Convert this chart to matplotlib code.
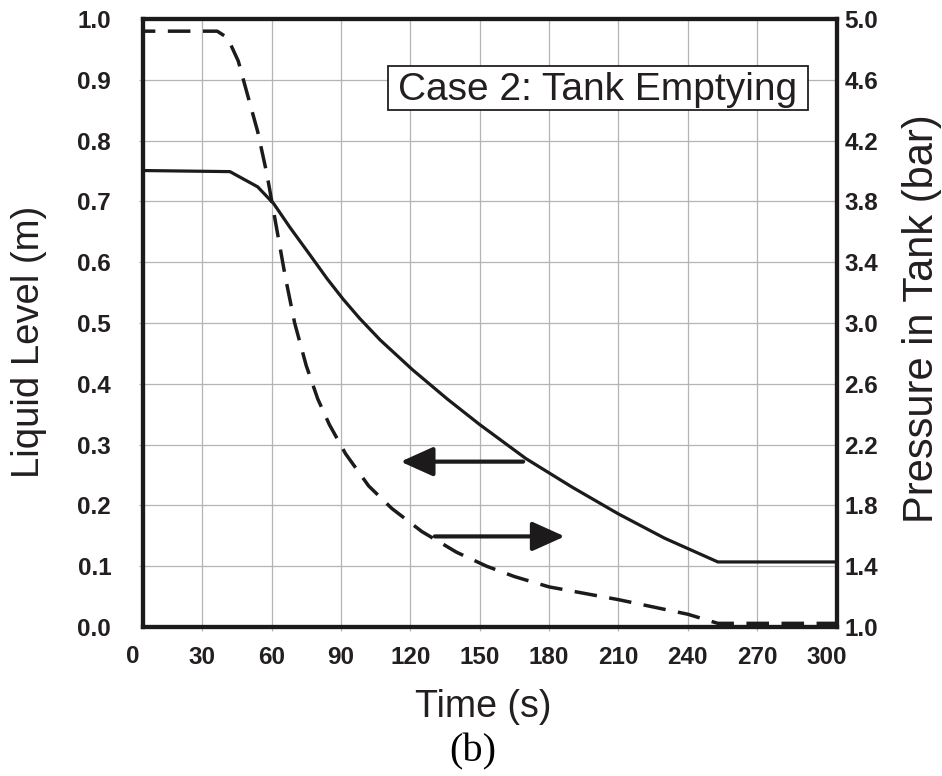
import matplotlib
matplotlib.use('Agg')
import matplotlib.pyplot as plt
from matplotlib.patches import Rectangle

plt.rcParams['font.family'] = ['Liberation Sans', 'DejaVu Sans']

# liquid level (left axis, m)
t_level = [0, 42, 54, 61, 68, 77, 84, 91, 98, 107, 121, 136, 150, 170, 190, 210, 230, 253, 305]
level = [0.751, 0.749, 0.724, 0.696, 0.657, 0.610, 0.573, 0.539, 0.508, 0.472, 0.423, 0.375,
         0.333, 0.277, 0.230, 0.186, 0.146, 0.107, 0.107]

# pressure in tank (right axis, bar)
t_press = [0, 36.5, 41, 45.6, 50, 54, 58, 62, 66, 70, 75, 80, 85, 92, 102, 112, 125, 140,
           153, 165, 180, 210, 240, 253, 305]
pressure = [4.92, 4.92, 4.876, 4.724, 4.48, 4.26, 3.98, 3.64, 3.30, 3.00, 2.72, 2.50, 2.332,
            2.14, 1.928, 1.78, 1.628, 1.492, 1.40, 1.332, 1.264, 1.18, 1.084, 1.024, 1.024]

x_ticks = [30, 60, 90, 120, 150, 180, 210, 240, 270, 300]
level_ticks = [0.0, 0.1, 0.2, 0.3, 0.4, 0.5, 0.6, 0.7, 0.8, 0.9, 1.0]
press_ticks = [1.0, 1.4, 1.8, 2.2, 2.6, 3.0, 3.4, 3.8, 4.2, 4.6, 5.0]

txt = '#231f20'
ink = '#1c1a1a'

fig = plt.figure(figsize=(9.42, 7.76), dpi=100)
ax = fig.add_axes([0.152, 0.192, 0.737, 0.7835])
ax2 = ax.twinx()

ax.plot(t_level, level, color=ink, lw=2.3, solid_joinstyle='round')
ax2.plot(t_press, pressure, color=ink, lw=2.5, dashes=(6.5, 3.6))

ax.set_xlim(4.5, 304.7)
ax.set_ylim(0, 1.0)
ax2.set_ylim(1.0, 5.0)

ax.set_xticks(x_ticks)
ax.set_xticklabels([str(v) for v in x_ticks])
ax.set_yticks(level_ticks)
ax.set_yticklabels([f'{v:.1f}' for v in level_ticks])
ax2.set_yticks(press_ticks)
ax2.set_yticklabels([f'{v:.1f}' for v in press_ticks])

ax.grid(True, color='#b4b4b4', lw=0.9)
ax.set_axisbelow(True)
# no gridline / tick at 300
ax.get_xgridlines()[-1].set_visible(False)
ax.xaxis.get_major_ticks()[-1].tick1line.set_visible(False)
ax.get_ygridlines()[0].set_visible(False)
ax.get_ygridlines()[-1].set_visible(False)
ax.yaxis.get_major_ticks()[0].tick1line.set_visible(False)
ax.yaxis.get_major_ticks()[-1].tick1line.set_visible(False)

ax.tick_params(axis='x', length=3, width=0.9, color='#b4b4b4', pad=11,
               labelsize=17.5, labelcolor=txt)
ax.tick_params(axis='y', length=3, width=0.9, color='#b4b4b4', pad=20,
               labelsize=17.5, labelcolor=txt)
ax2.tick_params(axis='y', length=0, pad=5, labelsize=17.5, labelcolor=txt)
for lab in ax.get_xticklabels() + ax.get_yticklabels() + ax2.get_yticklabels():
    lab.set_fontweight('bold')

# "0" label sits left of the frame
ax.text(0, -0.048, '0', transform=ax.get_xaxis_transform(), ha='center', va='center',
        fontsize=17.5, fontweight='bold', color=txt)

for a in (ax, ax2):
    for s in a.spines.values():
        s.set_linewidth(3)
        s.set_color(ink)

ax.add_patch(Rectangle((110.4, 0.850), 181.6, 0.072, fc='white', ec=txt, lw=1.3, zorder=5))
ax.text(201, 0.884, 'Case 2: Tank Emptying', ha='center', va='center', fontsize=28,
        color=txt, zorder=6)

arrow = dict(arrowstyle='-|>,head_length=1.0,head_width=0.45', mutation_scale=20,
             lw=3, color=ink, shrinkA=0, shrinkB=0)
ax.annotate('', xy=(115.8, 0.272), xytext=(168.8, 0.272), arrowprops=arrow)
ax.annotate('', xy=(186.8, 0.149), xytext=(130.6, 0.149), arrowprops=arrow)

fig.text(0.031, 0.559, 'Liquid Level (m)', rotation=90, ha='center', va='center',
         fontsize=27.5, color=txt)
fig.text(0.979, 0.59, 'Pressure in Tank (bar)', rotation=90, ha='center', va='center',
         fontsize=30, color=txt)
fig.text(0.513, 0.089, 'Time (s)', ha='center', va='center', fontsize=27, color=txt)
fig.text(0.502, 0.031, '(b)', ha='center', va='center', fontsize=29, color='black',
         family=['Liberation Serif', 'DejaVu Serif'])

fig.savefig('out.png', dpi=100)
